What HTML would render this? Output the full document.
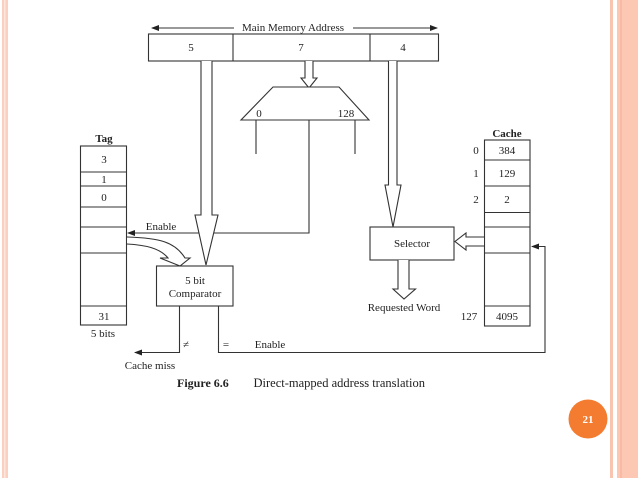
<!DOCTYPE html>
<html><head><style>
html,body{margin:0;padding:0;background:#fff;}
svg{display:block;}
text{font-family:"Liberation Serif",serif;font-size:11px;fill:#222;}
</style></head><body>
<svg width="638" height="478" viewBox="0 0 638 478" xmlns="http://www.w3.org/2000/svg">
<defs>
<marker id="ah" markerWidth="8" markerHeight="6" refX="7" refY="3" orient="auto" markerUnits="userSpaceOnUse">
<path d="M0,0 L8,3 L0,6 Z" fill="#222"/></marker>
</defs>
<rect x="2" y="0" width="6" height="478" fill="#fbd0c0"/>
<rect x="4" y="0" width="1.5" height="478" fill="#fde6dc"/>
<rect x="610" y="0" width="3" height="478" fill="#f9c4b0"/>
<rect x="617" y="0" width="21" height="478" fill="#fcc8b4"/>
<rect x="620" y="0" width="2" height="478" fill="#f8baa4"/>

<g stroke="#333" stroke-width="1.1" fill="none">
<line x1="234" y1="28" x2="152" y2="28" marker-end="url(#ah)"/>
<line x1="353" y1="28" x2="437" y2="28" marker-end="url(#ah)"/>
<rect x="148.5" y="34" width="290" height="27" fill="#fff"/>
<line x1="233" y1="34" x2="233" y2="61"/>
<line x1="370" y1="34" x2="370" y2="61"/>
<path d="M305,61 L305,78 L301,78 L309,88 L317,78 L313,78 L313,61" fill="#fff"/>
<path d="M273,87 L339,87 L369,120 L241,120 Z" fill="#fff"/>
<line x1="256" y1="120" x2="256" y2="154"/>
<line x1="355" y1="120" x2="355" y2="154"/>
<polyline points="309,120 309,233 128,233" marker-end="url(#ah)"/>
<path d="M201,61 L201,215 L195,215 L206,265 L218,215 L212,215 L212,61" fill="#fff"/>
<path d="M388.5,61 L388.5,185 L385,185 L393,227 L401,185 L397,185 L397,61" fill="#fff"/>
<rect x="80.5" y="146" width="46" height="179"/>
<line x1="80.5" y1="172" x2="126.5" y2="172"/>
<line x1="80.5" y1="186" x2="126.5" y2="186"/>
<line x1="80.5" y1="207" x2="126.5" y2="207"/>
<line x1="80.5" y1="227" x2="126.5" y2="227"/>
<line x1="80.5" y1="253" x2="126.5" y2="253"/>
<line x1="80.5" y1="306" x2="126.5" y2="306"/>
<path d="M127,237 C160,238 175,242 185,258 L190,258 L180,266 L160,258 L168,258 C160,248 145,245 127,244" fill="#fff"/>
<rect x="156.5" y="266" width="76.5" height="40" fill="#fff"/>
<polyline points="179.5,306 179.5,352.5 135,352.5" marker-end="url(#ah)"/>
<polyline points="218.5,306 218.5,352.5 545,352.5 545,246.5 532,246.5" marker-end="url(#ah)"/>
<rect x="484.5" y="140" width="45.5" height="186"/>
<line x1="484.5" y1="160" x2="530" y2="160"/>
<line x1="484.5" y1="186" x2="530" y2="186"/>
<line x1="484.5" y1="212.5" x2="530" y2="212.5"/>
<line x1="484.5" y1="227" x2="530" y2="227"/>
<line x1="484.5" y1="253" x2="530" y2="253"/>
<line x1="484.5" y1="306" x2="530" y2="306"/>
<rect x="370" y="227" width="84" height="33" fill="#fff"/>
<path d="M484,237 L466,237 L466,233 L455,241.5 L466,250 L466,246 L484,246" fill="#fff"/>
<path d="M398,260 L398,289 L393,289 L404,299 L415.5,289 L409,289 L409,260" fill="#fff"/>
</g>

<text x="293" y="31" text-anchor="middle">Main Memory Address</text>
<text x="191" y="51" text-anchor="middle">5</text>
<text x="301" y="51" text-anchor="middle">7</text>
<text x="403" y="51" text-anchor="middle">4</text>
<text x="259" y="117" text-anchor="middle">0</text>
<text x="346" y="117" text-anchor="middle">128</text>
<text x="104" y="142" text-anchor="middle" font-weight="bold">Tag</text>
<text x="104" y="163" text-anchor="middle">3</text>
<text x="104" y="183" text-anchor="middle">1</text>
<text x="104" y="201" text-anchor="middle">0</text>
<text x="104" y="320" text-anchor="middle">31</text>
<text x="103" y="337" text-anchor="middle">5 bits</text>
<text x="507" y="137" text-anchor="middle" font-weight="bold">Cache</text>
<text x="476" y="154" text-anchor="middle">0</text>
<text x="507" y="154" text-anchor="middle">384</text>
<text x="476" y="177" text-anchor="middle">1</text>
<text x="507" y="177" text-anchor="middle">129</text>
<text x="476" y="203" text-anchor="middle">2</text>
<text x="507" y="203" text-anchor="middle">2</text>
<text x="469" y="320" text-anchor="middle">127</text>
<text x="507" y="320" text-anchor="middle">4095</text>
<text x="161" y="230" text-anchor="middle">Enable</text>
<text x="195" y="284" text-anchor="middle">5 bit</text>
<text x="195" y="297" text-anchor="middle">Comparator</text>
<text x="412" y="247" text-anchor="middle">Selector</text>
<text x="404" y="311" text-anchor="middle">Requested Word</text>
<text x="186" y="348" text-anchor="middle">≠</text>
<text x="226" y="348" text-anchor="middle">=</text>
<text x="270" y="348" text-anchor="middle">Enable</text>
<text x="150" y="369" text-anchor="middle">Cache miss</text>
<text x="177" y="387" font-weight="bold" style="font-size:12px">Figure 6.6</text>
<text x="253.5" y="387" style="font-size:12.5px">Direct-mapped address translation</text>
<circle cx="588" cy="419" r="19.5" fill="#f47c30"/>
<text x="588" y="423" text-anchor="middle" font-weight="bold" style="fill:#fff;font-size:11px">21</text>
</svg>
</body></html>
